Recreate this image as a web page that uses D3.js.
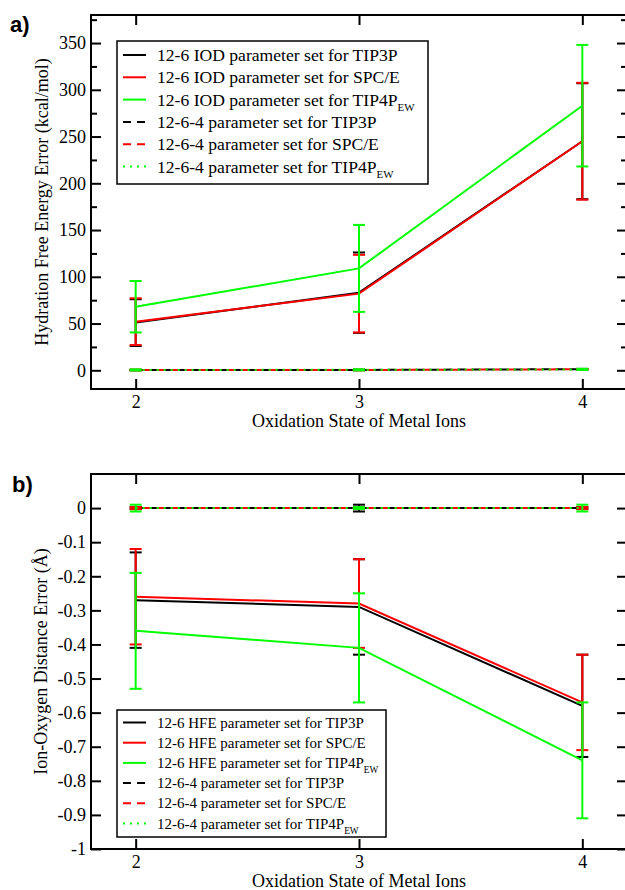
<!DOCTYPE html>
<meta charset="utf-8">
<style>
body {
  margin: 0;
  background: #fff;
}
svg text {
  font-family: "Liberation Serif", "Times New Roman", serif;
  fill: #000;
}
.axis text {
  font-size: 18px;
}
.axis line {
  stroke: #000;
  stroke-width: 2px;
}
.frame {
  fill: none;
  stroke: #000;
  stroke-width: 2px;
}
.tag {
  font-family: "Liberation Sans", Arial, sans-serif;
  font-weight: bold;
  font-size: 22px;
}
.legend-box {
  fill: #fff;
  stroke: #000;
  stroke-width: 1.5px;
}
</style>
<body>
<script src="https://d3js.org/d3.v7.min.js"></script>
<script>

var width = 625,
    height = 890;

var oxidationStates = [2, 3, 4];
var xTicks = [2, 3, 4];

// panel a) hydration free energy error (kcal/mol)
var iodTip3p = [51, 83, 245],
    iodTip3pErr = [25, 43, 62];
var iodSpce = [52, 82, 245],
    iodSpceErr = [25, 41.5, 62.5];
var iodTip4pew = [68, 109, 283],
    iodTip4pewErr = [27.5, 46.5, 65];
var c4Tip3pA = [0.3, 0.4, 1.2],
    c4Tip3pAErr = [0.3, 0.3, 0.3];
var c4SpceA = [0.3, 0.3, 1.1],
    c4SpceAErr = [0.3, 0.3, 0.3];
var c4Tip4pewA = [0.4, 0.5, 1.0],
    c4Tip4pewAErr = [0.6, 0.6, 0.6];
var yTicksA = [0, 50, 100, 150, 200, 250, 300, 350];
var yMinorA = [25, 75, 125, 175, 225, 275, 325, 375];

// panel b) ion-oxygen distance error (A)
var hfeTip3p = [-0.27, -0.29, -0.58],
    hfeTip3pErr = [0.14, 0.14, 0.15];
var hfeSpce = [-0.26, -0.28, -0.57],
    hfeSpceErr = [0.14, 0.13, 0.14];
var hfeTip4pew = [-0.36, -0.41, -0.74],
    hfeTip4pewErr = [0.17, 0.16, 0.17];
var c4Tip3pB = [0, 0, 0],
    c4Tip3pBErr = [0.003, 0.01, 0.003];
var c4SpceB = [0, 0, 0],
    c4SpceBErr = [0.003, 0.003, 0.003];
var c4Tip4pewB = [0, 0, 0],
    c4Tip4pewBErr = [0.01, 0.003, 0.01];
var yTicksB = [0, -0.1, -0.2, -0.3, -0.4, -0.5, -0.6, -0.7, -0.8, -0.9, -1];

var legendA = [
  ["12-6 IOD parameter set for TIP3P", ""],
  ["12-6 IOD parameter set for SPC/E", ""],
  ["12-6 IOD parameter set for TIP4P", "EW"],
  ["12-6-4 parameter set for TIP3P", ""],
  ["12-6-4 parameter set for SPC/E", ""],
  ["12-6-4 parameter set for TIP4P", "EW"]
];
var legendB = [
  ["12-6 HFE parameter set for TIP3P", ""],
  ["12-6 HFE parameter set for SPC/E", ""],
  ["12-6 HFE parameter set for TIP4P", "EW"],
  ["12-6-4 parameter set for TIP3P", ""],
  ["12-6-4 parameter set for SPC/E", ""],
  ["12-6-4 parameter set for TIP4P", "EW"]
];

var colors = ["#000", "#ff0000", "#00ff00", "#000", "#ff0000", "#00ff00"];
var dashes = [null, null, null, "8,6", "8,6", "2,5"];
var dashOffsets = [0, 0, 0, 0, 7, 0];

var svg = d3.select("body").append("svg")
    .attr("width", width)
    .attr("height", height);

function drawPanel(opt) {
  var x = d3.scaleLinear().domain([1.8, 4.2]).range([91, 627]);
  var y = d3.scaleLinear().domain(opt.yDomain).range([opt.bottom, opt.top]);
  var g = svg.append("g");

  function clean(sel) {
    sel.select(".domain").remove();
    sel.attr("font-family", null).attr("font-size", null);
  }

  g.append("g").attr("class", "axis")
      .attr("transform", "translate(91,0)")
      .call(d3.axisLeft(y).tickValues(opt.yTicks).tickSize(-10).tickSizeOuter(0)
        .tickPadding(5).tickFormat(opt.fmt))
      .call(clean);
  g.append("g").attr("class", "axis")
      .attr("transform", "translate(627,0)")
      .call(d3.axisRight(y).tickValues(opt.yTicks).tickSize(-10).tickSizeOuter(0).tickFormat(""))
      .call(clean);
  if (opt.yMinor) {
    g.append("g").attr("class", "axis")
        .attr("transform", "translate(91,0)")
        .call(d3.axisLeft(y).tickValues(opt.yMinor).tickSize(-6).tickSizeOuter(0).tickFormat(""))
        .call(clean);
    g.append("g").attr("class", "axis")
        .attr("transform", "translate(627,0)")
        .call(d3.axisRight(y).tickValues(opt.yMinor).tickSize(-6).tickSizeOuter(0).tickFormat(""))
        .call(clean);
  }
  g.append("g").attr("class", "axis")
      .attr("transform", "translate(0," + opt.bottom + ")")
      .call(d3.axisBottom(x).tickValues(xTicks).tickSize(-10).tickSizeOuter(0)
        .tickPadding(6).tickFormat(d3.format("d")))
      .call(clean);
  g.append("g").attr("class", "axis")
      .attr("transform", "translate(0," + opt.top + ")")
      .call(d3.axisTop(x).tickValues(xTicks).tickSize(-10).tickSizeOuter(0).tickFormat(""))
      .call(clean);

  g.append("rect").attr("class", "frame")
      .attr("x", x.range()[0]).attr("y", opt.top)
      .attr("width", x.range()[1] - x.range()[0])
      .attr("height", opt.bottom - opt.top);

  var line = d3.line()
      .x(function(d) { return x(d[0]); })
      .y(function(d) { return y(d[1]); });

  opt.series.forEach(function(s, i) {
    var pts = oxidationStates.map(function(o, j) { return [o, s.values[j], s.errs[j]]; });
    var sg = g.append("g")
        .attr("stroke", colors[i])
        .attr("stroke-width", 2)
        .attr("fill", "none");
    pts.forEach(function(p) {
      var cx = x(p[0]), y1 = y(p[1] + p[2]), y2 = y(p[1] - p[2]);
      sg.append("line").attr("x1", cx).attr("x2", cx).attr("y1", y1).attr("y2", y2);
      sg.append("line").attr("x1", cx - 6).attr("x2", cx + 6).attr("y1", y1).attr("y2", y1);
      sg.append("line").attr("x1", cx - 6).attr("x2", cx + 6).attr("y1", y2).attr("y2", y2);
    });
    sg.append("path")
        .datum(pts)
        .attr("d", line)
        .attr("stroke-dasharray", dashes[i])
        .attr("stroke-dashoffset", dashOffsets[i]);
  });

  // legend
  var L = opt.legend;
  var lg = g.append("g");
  lg.append("rect").attr("class", "legend-box")
      .attr("x", L.x0).attr("y", L.y0)
      .attr("width", L.x1 - L.x0).attr("height", L.y1 - L.y0);
  opt.labels.forEach(function(lab, i) {
    var ly = L.first + i * L.step;
    lg.append("line")
        .attr("x1", L.x0 + 6).attr("x2", L.x0 + 29)
        .attr("y1", ly).attr("y2", ly)
        .attr("stroke", colors[i]).attr("stroke-width", 2)
        .attr("stroke-dasharray", dashes[i]);
    var t = lg.append("text")
        .attr("x", L.x0 + 40).attr("y", ly + L.base)
        .style("font-size", L.size + "px")
        .text(lab[0]);
    if (lab[1]) {
      t.append("tspan").attr("dy", 5).style("font-size", (L.size * 0.62) + "px").text(lab[1]);
    }
  });

  // axis titles
  g.append("text")
      .attr("transform", "translate(" + opt.ylabX + "," + ((opt.top + opt.bottom) / 2) + ") rotate(-90)")
      .attr("text-anchor", "middle")
      .style("font-size", "18px")
      .text(opt.ylab);
  g.append("text")
      .attr("x", 359).attr("y", opt.bottom + 38)
      .attr("text-anchor", "middle")
      .style("font-size", "18px")
      .text("Oxidation State of Metal Ions");
  g.append("text").attr("class", "tag")
      .attr("x", opt.tagX).attr("y", opt.tagY)
      .text(opt.tag);
}

drawPanel({
  yDomain: [-20, 380], top: 15, bottom: 389,
  yTicks: yTicksA, yMinor: yMinorA, fmt: d3.format("d"),
  series: [
    {values: iodTip3p, errs: iodTip3pErr},
    {values: iodSpce, errs: iodSpceErr},
    {values: iodTip4pew, errs: iodTip4pewErr},
    {values: c4Tip3pA, errs: c4Tip3pAErr},
    {values: c4SpceA, errs: c4SpceAErr},
    {values: c4Tip4pewA, errs: c4Tip4pewAErr}
  ],
  labels: legendA,
  legend: {x0: 117, y0: 41, x1: 428, y1: 184, first: 55, step: 22.3, base: 6, size: 17.6},
  ylab: "Hydration Free Energy Error (kcal/mol)", ylabX: 48,
  tag: "a)", tagX: 10, tagY: 32
});

drawPanel({
  yDomain: [-1, 0.1], top: 474, bottom: 849,
  yTicks: yTicksB, yMinor: null, fmt: function(d) { return d === 0 ? "0" : d === -1 ? "-1" : d3.format(".1f")(d).replace("\u2212", "-"); },
  series: [
    {values: hfeTip3p, errs: hfeTip3pErr},
    {values: hfeSpce, errs: hfeSpceErr},
    {values: hfeTip4pew, errs: hfeTip4pewErr},
    {values: c4Tip3pB, errs: c4Tip3pBErr},
    {values: c4SpceB, errs: c4SpceBErr},
    {values: c4Tip4pewB, errs: c4Tip4pewBErr}
  ],
  labels: legendB,
  legend: {x0: 117, y0: 710, x1: 386, y1: 837, first: 722.5, step: 20.2, base: 5, size: 15},
  ylab: "Ion-Oxygen Distance Error (\u00c5)", ylabX: 47,
  tag: "b)", tagX: 12, tagY: 492
});

</script>
